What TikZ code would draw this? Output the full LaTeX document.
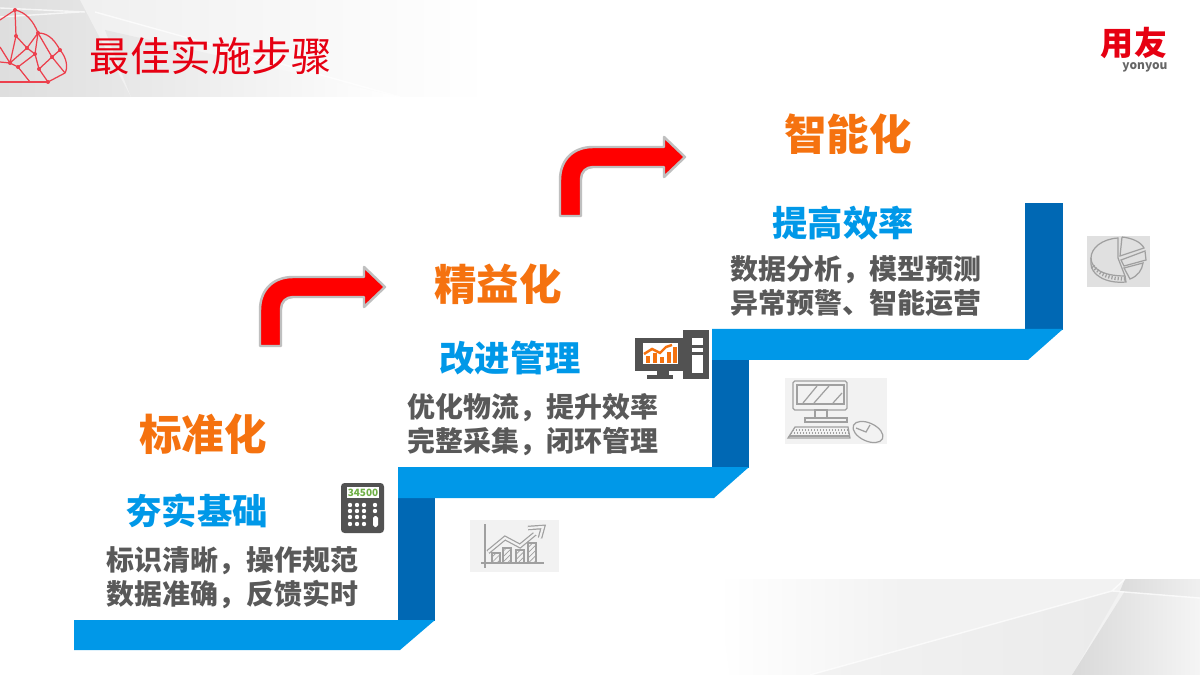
\documentclass[tikz,border=0pt]{standalone}
\usepackage{fontspec}
\setmainfont{Noto Sans CJK SC}
\usetikzlibrary{shadings,patterns}
\definecolor{barlight}{HTML}{0098E8}
\definecolor{bardark}{HTML}{0068B4}
\definecolor{headred}{HTML}{E60012}
\definecolor{stepor}{HTML}{F5720F}
\definecolor{bodygray}{HTML}{595959}
\definecolor{icongray}{HTML}{525252}
\definecolor{calcgreen}{HTML}{6FAF46}
\definecolor{sketchbg}{HTML}{F2F2F2}
\definecolor{sketchln}{HTML}{A0A0A0}
\tikzset{
	headline/.style={font=\fontsize{23pt}{26pt}\selectfont, text=headred, inner sep=0pt},
	levelname/.style={font=\fontsize{24.2pt}{27pt}\selectfont\bfseries, text=stepor, inner sep=0pt},
	goalname/.style={font=\fontsize{20.1pt}{23pt}\selectfont\bfseries, text=barlight, inner sep=0pt},
	bodytext/.style={font=\fontsize{15.9pt}{19.4pt}\selectfont\bfseries, text=bodygray, align=center, inner sep=0pt},
	sketch/.style={draw=sketchln, line width=0.7pt},
	turnarrow/.style={fill=red, draw=black!25, line width=1.4pt, line join=round},
}
\newcommand{\turnarrow}[2]{%
	\draw[turnarrow, shift={(#1,#2)}] (560,216) -- (560,180) .. controls (560,160) and (573,147) .. (593,147)
		-- (664,147) -- (664,137) -- (685,157) -- (664,177) -- (664,167) -- (593,167)
		.. controls (586,167) and (581,172) .. (581,179) -- (581,216) -- cycle;}
\begin{document}
\begin{tikzpicture}[x=0.02cm, y=-0.02cm]
	\useasboundingbox (0,0) rectangle (1200,675);
	\fill[white] (0,0) rectangle (1200,675);

	% header band
	\shade[left color=black!13, right color=black!9] (0,0) rectangle (131,97);
	\shade[left color=black!6, right color=white] (80,0) -- (490,0) -- (490,97) -- (131,97) -- cycle;
	\shade[left color=black!10, right color=white] (105,30) -- (400,97) -- (131,97) -- cycle;
	\draw[white, line width=0.8pt, opacity=0.7] (0,8) -- (85,12) (0,17) -- (80,12);
	\draw[white, line width=0.8pt, opacity=0.7] (95,12) -- (400,97);

	% footer band
	\shade[left color=white, right color=black!5] (717,579) -- (900,579) -- (900,675) -- (730,675) -- cycle;
	\fill[black!5] (900,579) rectangle (1125,675);
	\shade[left color=black!5, right color=black!8] (810,675) -- (1112,591) -- (1120,591) -- (1072,675) -- cycle;
	\shade[left color=black!15, right color=black!4] (1125,591) -- (1200,598) -- (1200,675) -- (1072,675) -- cycle;
	\shade[left color=black!14, right color=black!6] (1125,579) -- (1200,579) -- (1200,598) -- (1120,591) -- cycle;
	\draw[white, line width=0.8pt, opacity=0.7] (810,675) -- (1112,591) -- (1200,598) (1112,591) -- (1125,579);

	% cloud
	\begin{scope}[headred!75, line width=0.7pt]
		\draw (0,20) -- (15,10) .. controls (26,12) and (34,22) .. (38,33) .. controls (46,33) and (53,37) .. (60,50)
			.. controls (67,58) and (68,68) .. (65,73) -- (48,82);
		\draw[line width=1.2pt] (0,82) -- (48,82);
		\draw (15,10) -- (16,36) -- (27,48) -- (38,33) -- (35,54) -- (39,69) -- (48,82);
		\draw (0,47) -- (10,63) -- (18,67) -- (35,54) -- (27,48) -- (10,63) -- (16,36);
		\draw (39,69) -- (52,57) -- (60,50) (38,33) -- (52,57) -- (65,73) (0,62) -- (10,63) (18,67) -- (30,82);
		\foreach \dotx/\doty in {15/10,16/36,38/33,27/48,35/54,10/63,18/67,39/69,52/57,60/50,48/82}
			\fill (\dotx,\doty) circle (2);
	\end{scope}

	% logo
	\node[font=\fontsize{18.8pt}{20pt}\selectfont\bfseries, text=headred, inner sep=0pt] (logo) at (1134,43) {用友};
	\node[font=\fontsize{6.8pt}{8pt}\selectfont\bfseries, text=black!60, inner sep=0pt] (brand) at (1145,67) {yonyou};

	\node[headline] (title) at (211,56) {最佳实施步骤};

	% stairs
	\fill[bardark] (398,497) rectangle (435,621);
	\fill[bardark] (712,358) rectangle (749,468);
	\fill[bardark] (1025,203) rectangle (1063,330);
	\fill[barlight] (74,620) -- (435,620) -- (400,650) -- (74,650) -- cycle;
	\fill[barlight] (398,467) -- (749,467) -- (714,498) -- (398,498) -- cycle;
	\fill[barlight] (712,329) -- (1063,329) -- (1028,360) -- (712,360) -- cycle;

	\turnarrow{-300}{130}
	\turnarrow{0}{0}

	\node[levelname] (std) at (203,434) {标准化};
	\node[goalname] (stdgoal) at (197,511) {夯实基础};
	\node[bodytext] (stdbody) at (232.5,578) {标识清晰，操作规范\\数据准确，反馈实时};

	\node[levelname] (lean) at (498,284) {精益化};
	\node[goalname] (leangoal) at (510,358) {改进管理};
	\node[bodytext] (leanbody) at (533,425) {优化物流，提升效率\\完整采集，闭环管理};

	\node[levelname] (smart) at (848,134) {智能化};
	\node[goalname] (smartgoal) at (843,223) {提高效率};
	\node[bodytext] (smartbody) at (856,286) {数据分析，模型预测\\异常预警、智能运营};

	% calculator
	\fill[icongray, rounded corners=2] (341,483) rectangle (384,533);
	\fill[white] (347,487) rectangle (379,498);
	\node[font=\fontsize{5.7pt}{7pt}\selectfont\bfseries, text=calcgreen, inner sep=0pt] (calcnum) at (363,492.5) {34500};
	\foreach \keyy in {505,511,517,524}
		\foreach \keyx in {350,357,364}
			\fill[white] (\keyx,\keyy) circle (2.2);
	\foreach \keyy in {505,511}
		\fill[white] (375,\keyy) circle (2.2);
	\fill[white, rounded corners=1] (373,516) rectangle (378,527);

	% computer
	\fill[icongray] (635,338) rectangle (683,371);
	\fill[icongray] (657,371) rectangle (669,375);
	\fill[icongray] (647,375) rectangle (673,379);
	\fill[white] (643,343) rectangle (678,364);
	\fill[icongray] (683,330) rectangle (709,379);
	\fill[white] (692,338) rectangle (703,345);
	\fill[white] (692,348) rectangle (703,352);
	\fill[white] (692,355) rectangle (703,373);
	\fill[stepor] (646,356) rectangle (650,363);
	\fill[stepor] (653,353) rectangle (657,363);
	\fill[stepor] (660,357) rectangle (664,363);
	\fill[stepor] (667,352) rectangle (671,363);
	\fill[stepor] (673,347) rectangle (677,363);
	\draw[stepor, line width=1.4pt] (644,354) -- (652,349) -- (660,353) -- (666,347) -- (672,345);

	% sketch: rising chart
	\fill[sketchbg] (470,520) rectangle (559,572);
	\begin{scope}[sketch]
		\draw (485,524) -- (485,568) (481,563) -- (544,563);
		\foreach \chartx/\charty in {492/553,503/548,516/550,528/543}
			\draw[pattern=north east lines, pattern color=sketchln] (\chartx,563) rectangle ++(8,\charty-563);
		\draw[double=sketchbg, double distance=1.2pt] (488,552) -- (505,538) -- (520,546) -- (537,532);
		\draw[double=sketchbg, double distance=1.2pt, fill=sketchbg] (528,528) -- (543,527) -- (540,538);
	\end{scope}

	% sketch: desktop
	\fill[sketchbg] (785,378) rectangle (887,444);
	\begin{scope}[sketch]
		\draw[rounded corners=1] (793,381) rectangle (847,410);
		\draw (797,385) rectangle (844,404);
		\draw (803,403) -- (817,386) (814,403) -- (829,386) (833,403) -- (842,393);
		\draw (815,410) rectangle (827,418) (805,418) rectangle (847,422);
		\draw (795,427) -- (848,427) -- (850,438) -- (788,438) -- cycle;
		\draw[densely dotted] (793,430) -- (848,430) (791,433) -- (849,433);
		\draw (789,436) -- (849,436);
		\draw[rotate around={-25:(868,432)}] (868,432) ellipse (16 and 9);
		\draw (856,428) -- (866,432) -- (870,425);
	\end{scope}

	% sketch: pie
	\fill[black!12] (1087,236) rectangle (1150,287);
	\begin{scope}[sketch]
		\draw (1118,238) .. controls (1102,239) and (1091,248) .. (1091,258) .. controls (1091,268) and (1102,276) .. (1125,276)
			-- (1118,258) -- cycle;
		\draw (1091,258) -- (1091,264) .. controls (1091,274) and (1105,284) .. (1126,282) -- (1125,276);
		\draw[line width=2pt, dash pattern=on 0.7pt off 1.1pt] (1093,266) .. controls (1100,275) and (1110,279) .. (1125,279);
		\draw (1122,237) -- (1120,256) -- (1144,248) .. controls (1141,242) and (1132,238) .. (1122,237);
		\draw (1121,260) -- (1145,251) -- (1146,260) -- (1124,266) -- cycle;
		\draw (1124,268) -- (1143,263) .. controls (1142,270) and (1138,276) .. (1130,279) -- cycle;
	\end{scope}
\end{tikzpicture}
\end{document}
